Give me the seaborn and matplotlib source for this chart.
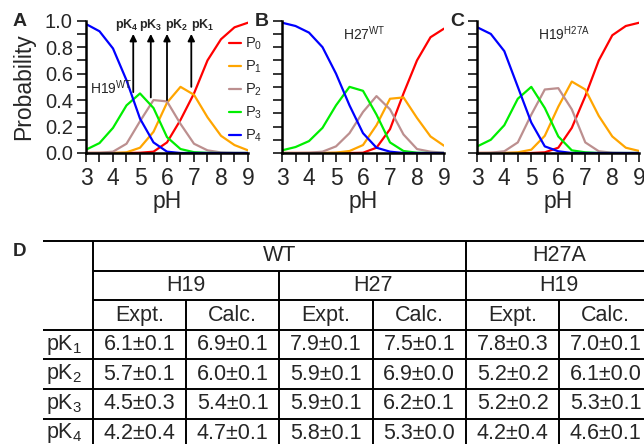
import numpy as np
import pandas as pd
import matplotlib
matplotlib.use("Agg")
import matplotlib.pyplot as plt
import seaborn as sns
from matplotlib.ticker import MultipleLocator
from matplotlib.lines import Line2D

# pH grid shared by the three panels
pH = [3.0, 3.5, 4.0, 4.5, 5.0, 5.5, 6.0, 6.5, 7.0, 7.5, 8.0, 8.5, 9.0]
states = ['P0', 'P1', 'P2', 'P3', 'P4']
state_labels = ['P$_0$', 'P$_1$', 'P$_2$', 'P$_3$', 'P$_4$']
colors = {'P0': '#ff0000', 'P1': '#ffa500', 'P2': '#bc8f8f', 'P3': '#00ee00', 'P4': '#0000ff'}

# A: H19 WT
a_p0 = [0, 0, 0, 0, 0.002, 0.01, 0.08, 0.25, 0.45, 0.70, 0.86, 0.95, 0.985]
a_p1 = [0, 0, 0, 0.005, 0.04, 0.16, 0.38, 0.50, 0.44, 0.27, 0.13, 0.06, 0.02]
a_p2 = [0, 0.002, 0.01, 0.07, 0.24, 0.40, 0.39, 0.22, 0.07, 0.02, 0.004, 0.001, 0]
a_p3 = [0.025, 0.075, 0.19, 0.36, 0.45, 0.34, 0.12, 0.03, 0.006, 0.001, 0, 0, 0]
a_p4 = [0.975, 0.92, 0.79, 0.55, 0.26, 0.08, 0.01, 0, 0, 0, 0, 0, 0]

# B: H27 WT
b_p0 = [0, 0, 0, 0, 0, 0, 0.002, 0.04, 0.18, 0.45, 0.70, 0.875, 0.94]
b_p1 = [0, 0, 0, 0, 0.003, 0.015, 0.06, 0.21, 0.41, 0.42, 0.265, 0.125, 0.055]
b_p2 = [0, 0, 0.002, 0.01, 0.05, 0.15, 0.31, 0.43, 0.33, 0.14, 0.03, 0.01, 0.002]
b_p3 = [0.02, 0.045, 0.09, 0.19, 0.36, 0.50, 0.47, 0.29, 0.08, 0.015, 0.002, 0, 0]
b_p4 = [0.985, 0.96, 0.91, 0.80, 0.60, 0.36, 0.15, 0.04, 0.01, 0, 0, 0, 0]

# C: H19 H27A
c_p0 = [0, 0, 0, 0, 0, 0.005, 0.04, 0.19, 0.43, 0.70, 0.89, 0.96, 0.985]
c_p1 = [0, 0, 0, 0.005, 0.025, 0.13, 0.35, 0.54, 0.48, 0.28, 0.125, 0.04, 0.015]
c_p2 = [0, 0.002, 0.013, 0.08, 0.29, 0.48, 0.49, 0.33, 0.08, 0.013, 0.002, 0, 0]
c_p3 = [0.05, 0.10, 0.21, 0.41, 0.50, 0.34, 0.125, 0.02, 0.005, 0, 0, 0, 0]
c_p4 = [0.95, 0.90, 0.77, 0.50, 0.23, 0.05, 0.013, 0, 0, 0, 0, 0, 0]

panels = [('A', 'H19$^{WT}$', [a_p0, a_p1, a_p2, a_p3, a_p4]),
          ('B', 'H27$^{WT}$', [b_p0, b_p1, b_p2, b_p3, b_p4]),
          ('C', 'H19$^{H27A}$', [c_p0, c_p1, c_p2, c_p3, c_p4])]

# arrows in panel A
pk_names = ['pK$_4$', 'pK$_3$', 'pK$_2$', 'pK$_1$']
pk_x = [4.75, 5.4, 6.0, 6.9]
pk_base = [0.46, 0.42, 0.40, 0.50]
pk_label_x = [4.07, 4.96, 5.93, 6.89]

# table D
groups = ['WT', 'H27A']
sites = ['H19', 'H27', 'H19']
kinds = ['Expt.', 'Calc.'] * 3
row_names = ['pK$_1$', 'pK$_2$', 'pK$_3$', 'pK$_4$']
pk1 = ['6.1±0.1', '6.9±0.1', '7.9±0.1', '7.5±0.1', '7.8±0.3', '7.0±0.1']
pk2 = ['5.7±0.1', '6.0±0.1', '5.9±0.1', '6.9±0.0', '5.2±0.2', '6.1±0.0']
pk3 = ['4.5±0.3', '5.4±0.1', '5.9±0.1', '6.2±0.1', '5.2±0.2', '5.3±0.1']
pk4 = ['4.2±0.4', '4.7±0.1', '5.8±0.1', '5.3±0.0', '4.2±0.4', '4.6±0.1']
cells = [pk1, pk2, pk3, pk4]

sns.set_style('ticks')
plt.rcParams['font.family'] = ['Liberation Sans', 'DejaVu Sans']
plt.rcParams['mathtext.default'] = 'regular'

fig = plt.figure(figsize=(6.44, 4.44), dpi=100)
W, H = 644.0, 444.0
lefts = [86, 282, 477.3]
letter_x = [12.5, 255, 450]
ax_w = 162
ax_top, ax_bot = 20.7, 153

for i, (letter, tag, series) in enumerate(panels):
    ax = fig.add_axes([lefts[i] / W, 1 - ax_bot / H, ax_w / W, (ax_bot - ax_top) / H])
    df = pd.DataFrame({'pH': pH * 5,
                       'prob': sum(series, []),
                       'state': [s for s in states for _ in pH]})
    sns.lineplot(data=df, x='pH', y='prob', hue='state', palette=colors,
                 ax=ax, lw=1.6, legend=False)
    ax.set_xlim(3, 9)
    ax.set_ylim(0, 1)
    ax.xaxis.set_major_locator(MultipleLocator(1))
    ax.xaxis.set_minor_locator(MultipleLocator(0.5))
    ax.yaxis.set_major_locator(MultipleLocator(0.2))
    ax.yaxis.set_minor_locator(MultipleLocator(0.1))
    ax.yaxis.set_major_formatter(matplotlib.ticker.FormatStrFormatter('%.1f'))
    ax.tick_params(which='both', direction='out', length=6.5, width=1.1, color='black')
    ax.tick_params(axis='x', labelsize=16.5, pad=3.5)
    ax.tick_params(axis='y', labelsize=14.5, pad=3)
    sns.despine(ax=ax)
    for sp in ['left', 'bottom']:
        ax.spines[sp].set_linewidth(1.8)
        ax.spines[sp].set_color('black')
    ax.set_xlabel('pH', fontsize=16.5, labelpad=0)
    if i == 0:
        ax.set_ylabel('Probability', fontsize=16.5, labelpad=7)
        ax.text(3.15, 0.49, tag, fontsize=10, va='center', ha='left')
    else:
        ax.set_ylabel('')
        ax.tick_params(axis='y', labelleft=False)
        ax.text(5.25, 0.9, tag, fontsize=10, va='center', ha='left')
    fig.text(letter_x[i] / W, 1 - 21.5 / H, letter, fontsize=14,
             fontweight='bold', ha='left', va='center')

    if i == 0:
        for name, x0, yb, xl in zip(pk_names, pk_x, pk_base, pk_label_x):
            ax.annotate('', xy=(x0, 0.90), xytext=(x0, yb),
                        arrowprops=dict(arrowstyle='-|>', color='black', lw=1.3,
                                        mutation_scale=10, shrinkA=0, shrinkB=0))
            ax.text(xl, 0.965, name, fontsize=9, fontweight='bold',
                    ha='left', va='center')
        handles = [Line2D([], [], color=colors[s], lw=1.6) for s in states]
        ax.legend(handles, state_labels, loc='upper left', bbox_to_anchor=(0.885, 0.885),
                  frameon=False, fontsize=10.5, handlelength=0.8, handletextpad=0.25,
                  labelspacing=0.45, borderpad=0, borderaxespad=0)

# table D drawn in pixel coordinates on an overlay axes
tx = fig.add_axes([0, 0, 1, 1])
tx.set_xlim(0, W)
tx.set_ylim(H, 0)
tx.axis('off')
t_left, lab_edge, col_w = 43, 92.7, 93.3
t_top, row_h = 241, 29.6
t_right = lab_edge + 6 * col_w
n_rows = 7
t_bot = t_top + n_rows * row_h
lw = 1.4

tx.hlines(t_top, t_left, t_right, color='black', lw=lw)
tx.hlines([t_top + row_h, t_top + 2 * row_h], lab_edge, t_right, color='black', lw=lw)
tx.hlines([t_top + k * row_h for k in range(3, n_rows + 1)], t_left, t_right, color='black', lw=lw)
tx.vlines([lab_edge, lab_edge + 4 * col_w, t_right], t_top, t_bot, color='black', lw=lw)
tx.vlines(lab_edge + 2 * col_w, t_top + row_h, t_bot, color='black', lw=lw)
tx.vlines([lab_edge + k * col_w for k in (1, 3, 5)], t_top + 2 * row_h, t_bot, color='black', lw=lw)

fs = 15.5
tx.text(lab_edge + 2 * col_w, t_top + 0.5 * row_h, groups[0], fontsize=fs, ha='center', va='center')
tx.text(lab_edge + 5 * col_w, t_top + 0.5 * row_h, groups[1], fontsize=fs, ha='center', va='center')
for k, s in enumerate(sites):
    tx.text(lab_edge + (2 * k + 1) * col_w, t_top + 1.5 * row_h, s, fontsize=fs, ha='center', va='center')
for k, s in enumerate(kinds):
    tx.text(lab_edge + (k + 0.5) * col_w, t_top + 2.5 * row_h, s, fontsize=fs, ha='center', va='center')
for r, (name, vals) in enumerate(zip(row_names, cells)):
    yc = t_top + (3.5 + r) * row_h
    tx.text(t_left + 3, yc, name, fontsize=fs, ha='left', va='center')
    for k, v in enumerate(vals):
        tx.text(lab_edge + (k + 0.5) * col_w, yc, v, fontsize=fs, ha='center', va='center')
fig.text(12.5 / W, 1 - 251 / H, 'D', fontsize=13.5, fontweight='bold', ha='left', va='center')

fig.savefig('out.png', dpi=100)
